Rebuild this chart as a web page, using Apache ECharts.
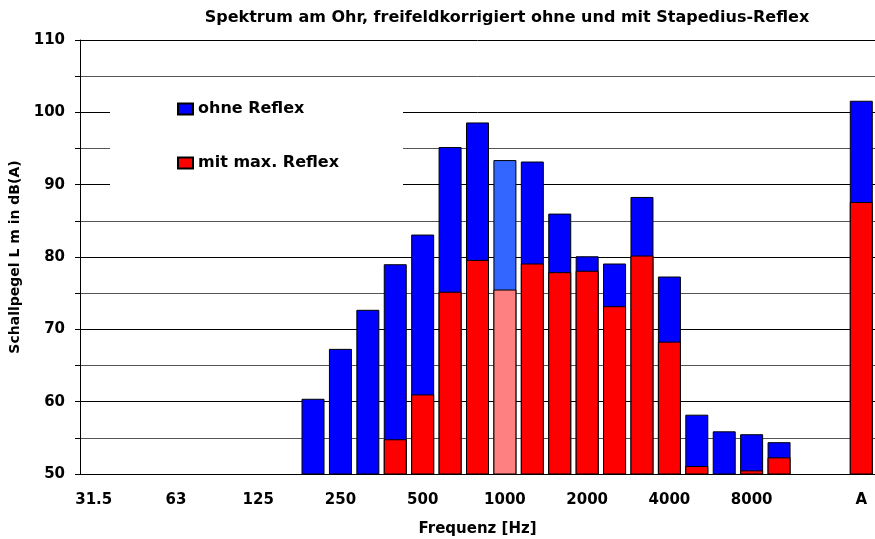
<!DOCTYPE html>
<html>
<head>
<meta charset="utf-8">
<script src="https://cdn.jsdelivr.net/npm/echarts@6/dist/echarts.min.js"></script>
<style>
  html, body { margin: 0; padding: 0; background: #fff; }
  #chart { width: 875px; height: 539px; }
</style>
</head>
<body>
<div id="chart"></div>
<script>
  // Terzbänder + A-bewerteter Gesamtpegel
  var bands = ['31.5', '40', '50', '63', '80', '100', '125', '160', '200', '250', '315', '400', '500',
    '630', '800', '1000', '1250', '1600', '2000', '2500', '3150', '4000', '5000', '6300', '8000',
    '10000', '12500', '16000', 'A'];
  var shownLabels = ['31.5', '63', '125', '250', '500', '1000', '2000', '4000', '8000', 'A'];

  // ohne Reflex
  var ohneReflex = [null, null, null, null, null, null, null, null, 60.4, 67.3, 72.7, 79.0, 83.1,
    95.2, 98.6, 93.4, 93.2, 86.0, 80.1, 79.1, 88.3, 77.3, 58.2, 55.9, 55.5,
    54.4, null, null, 101.6];
  // mit max. Reflex
  var mitReflex = [null, null, null, null, null, null, null, null, null, null, null, 54.8, 61.0,
    75.2, 79.6, 75.5, 79.1, 77.9, 78.1, 73.2, 80.2, 68.3, 51.1, null, 50.5,
    52.3, null, null, 87.6];

  var highlightBand = '1000';
  var font = 'DejaVu Sans';

  function toData(arr, light) {
    return arr.map(function (v, i) {
      if (v === null) return '-';
      if (bands[i] === highlightBand) return { value: v, itemStyle: { color: light } };
      return v;
    });
  }

  var chart = echarts.init(document.getElementById('chart'));
  chart.setOption({
    animation: false,
    textStyle: { fontFamily: font },
    title: {
      text: 'Spektrum am Ohr, freifeldkorrigiert ohne und mit Stapedius-Reflex',
      left: 502,
      top: 5,
      textAlign: 'center',
      textStyle: { fontFamily: font, fontWeight: 'bold', fontSize: 16, color: '#000' }
    },
    legend: {
      orient: 'vertical',
      left: 110,
      top: 84,
      padding: [17, 64, 35, 67],
      backgroundColor: '#fff',
      itemWidth: 15,
      itemHeight: 11,
      itemGap: 38,
      icon: 'rect',
      textStyle: { fontFamily: font, fontWeight: 'bold', fontSize: 16, color: '#000' },
      data: ['ohne Reflex', 'mit max. Reflex']
    },
    grid: { left: 80, right: 0, top: 40, bottom: 65, outerBoundsMode: 'none' },
    xAxis: {
      type: 'category',
      data: bands,
      name: 'Frequenz [Hz]',
      nameLocation: 'middle',
      nameGap: 48,
      nameTextStyle: { fontFamily: font, fontWeight: 'bold', fontSize: 15, color: '#000' },
      axisLine: { lineStyle: { color: '#000', width: 1 } },
      axisTick: { show: false },
      axisLabel: {
        interval: function (i, v) { return shownLabels.indexOf(v) >= 0; },
        margin: 19,
        fontFamily: font, fontWeight: 'bold', fontSize: 15, color: '#000'
      }
    },
    yAxis: {
      type: 'value',
      min: 50,
      max: 110,
      interval: 5,
      name: 'Schallpegel L m in dB(A)',
      nameLocation: 'middle',
      nameGap: 52,
      nameTextStyle: { fontFamily: font, fontWeight: 'bold', fontSize: 14, color: '#000' },
      axisLine: { show: true, lineStyle: { color: '#000', width: 1 } },
      axisTick: { show: true, length: 5, lineStyle: { color: '#000' } },
      axisLabel: {
        margin: 15,
        formatter: function (v) { return v % 10 === 0 ? String(v) : ''; },
        fontFamily: font, fontWeight: 'bold', fontSize: 15, color: '#000'
      },
      splitLine: { lineStyle: { color: ['#000', '#555'], width: 1 } }
    },
    series: [
      {
        name: 'ohne Reflex',
        type: 'bar',
        barWidth: 23,
        data: toData(ohneReflex, '#3366ff'),
        itemStyle: { color: '#0000ff', borderColor: '#000', borderWidth: 1 }
      },
      {
        name: 'mit max. Reflex',
        type: 'bar',
        barWidth: 23,
        barGap: '-100%',
        data: toData(mitReflex, '#ff8080'),
        itemStyle: { color: '#ff0000', borderColor: '#000', borderWidth: 1 }
      }
    ]
  });
</script>
</body>
</html>
